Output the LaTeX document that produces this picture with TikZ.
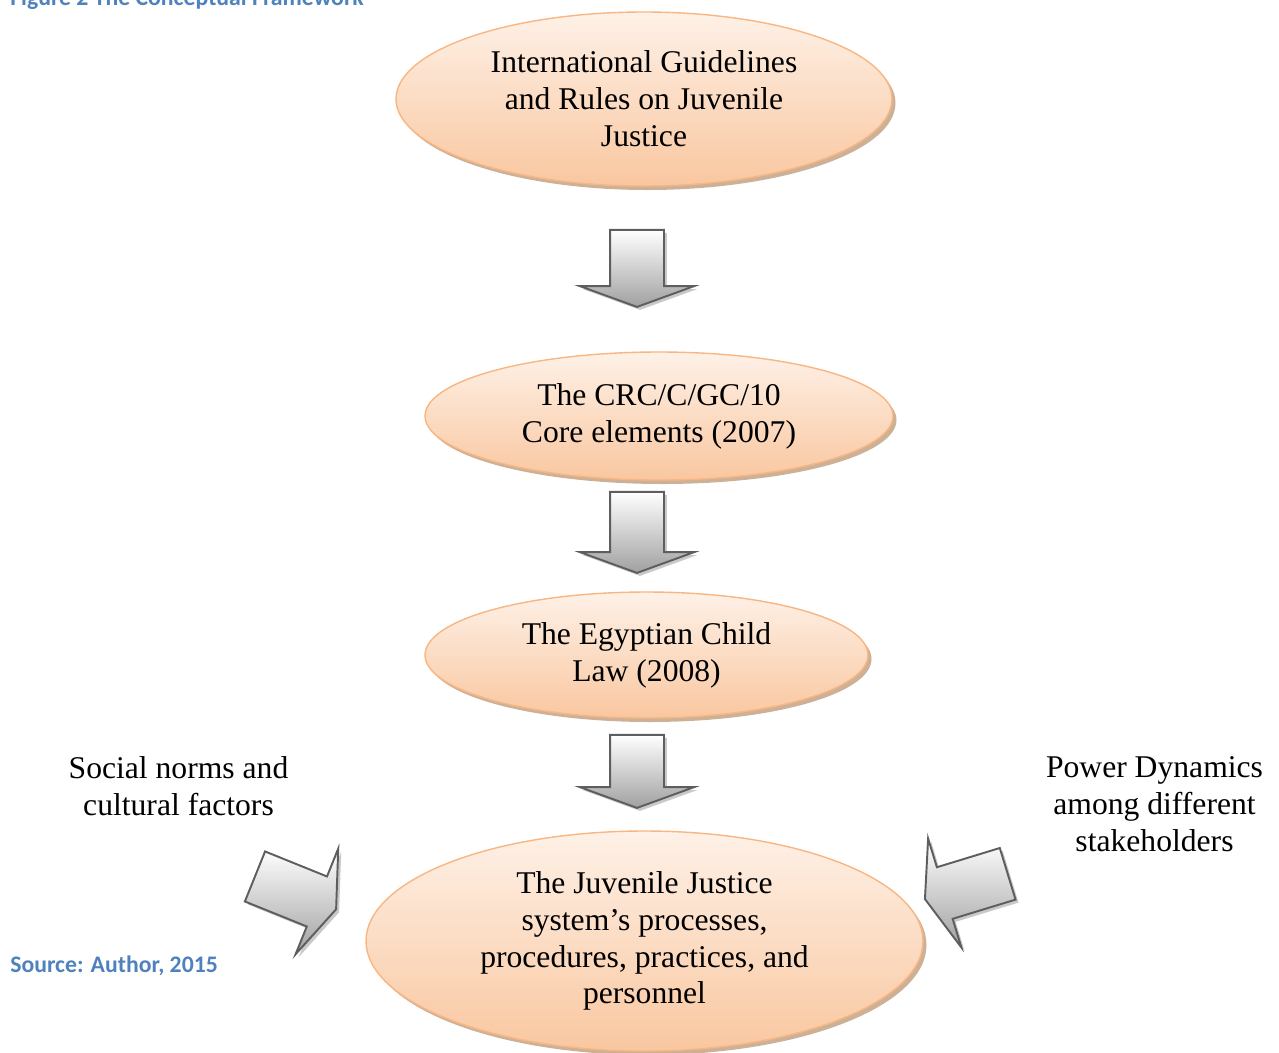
\documentclass[tikz,border=0pt]{standalone}
\usepackage{fontspec}
\setmainfont{Liberation Serif}
\newfontfamily\capfont{Carlito}
\usepackage{tikz}
\usetikzlibrary{positioning, shapes, shapes.arrows, shadows}

\definecolor{peachline}{HTML}{F8B683}
\definecolor{peachtop}{HTML}{FEF1E7}
\definecolor{peachbot}{HTML}{F9C7A0}
\definecolor{peachshadow}{HTML}{C8A88C}
\definecolor{arrowline}{HTML}{5E5E5E}
\definecolor{arrowgray}{HTML}{A0A0A0}
\definecolor{capblue}{HTML}{4F81BD}

\begin{document}
\begin{tikzpicture}[auto,
    stage/.style={draw=peachline, line width=0.8pt, ellipse, inner sep=0pt,
        top color=peachtop, bottom color=peachbot, align=center,
        font=\fontsize{18}{21}\selectfont,
        drop shadow={shadow xshift=0.07cm, shadow yshift=-0.08cm, fill=peachshadow, opacity=0.9}},
    flow/.style={draw=arrowline, line width=1.1pt, single arrow, inner xsep=0pt, inner ysep=0.52cm,
        single arrow head extend=0.6cm, single arrow tip angle=140,
        top color=white, bottom color=arrowgray,
        drop shadow={shadow xshift=0.06cm, shadow yshift=-0.06cm, fill=gray!60, opacity=0.7}},
    factor/.style={align=center, font=\fontsize{18}{21}\selectfont},
    caption/.style={font=\capfont\bfseries\fontsize{13.5}{16}\selectfont, text=capblue, inner sep=0pt}]
        \useasboundingbox (0,0) rectangle (25.58,-21.04);

        % Nodes
        \node (guide) [stage, minimum width=9.92cm, minimum height=3.48cm] at (12.88,-1.98) {International Guidelines\\and Rules on Juvenile\\Justice};
        \node (arrowA) [flow, minimum height=1.54cm, below of=guide, node distance=3.29cm, xshift=-0.14cm, rotate=-90] {};
        \node (crc) [stage, minimum width=9.36cm, minimum height=2.56cm, below of=arrowA, node distance=3.05cm, xshift=0.44cm] {The CRC/C/GC/10\\Core elements (2007)};
        \node (arrowB) [flow, minimum height=1.62cm, below of=crc, node distance=2.23cm, xshift=-0.44cm, rotate=-90] {};
        \node (child) [stage, minimum width=8.86cm, minimum height=2.52cm, below of=arrowB, node distance=2.55cm, xshift=0.19cm] {The Egyptian Child\\Law (2008)};
        \node (arrowC) [flow, minimum height=1.46cm, below of=child, node distance=2.23cm, xshift=-0.19cm, rotate=-90] {};
        \node (jjs) [stage, minimum width=11.14cm, minimum height=4.4cm, below of=arrowC, node distance=3.49cm, xshift=0.15cm] {The Juvenile Justice\\system's processes,\\procedures, practices, and\\personnel};

        % Side factors
        \node (normsArrow) [flow, minimum height=1.75cm, left of=jjs, node distance=7.07cm, yshift=1.0cm, rotate=-22] {};
        \node (powerArrow) [flow, minimum height=1.73cm, right of=jjs, node distance=6.53cm, yshift=1.12cm, rotate=197] {};
        \node (norms) [factor, above of=normsArrow, node distance=2.09cm, xshift=-2.25cm] {Social norms and\\cultural factors};
        \node (power) [factor, above of=powerArrow, node distance=1.62cm, xshift=3.67cm] {Power Dynamics\\among different\\stakeholders};

        % Captions
        \node (figcap) [caption, anchor=base west] at (0.2,-0.1) {Figure 2 The Conceptual Framework};
        \node (source) [caption, anchor=west] at (0.2,-19.32) {Source: Author, 2015};
    \end{tikzpicture}
\end{document}
